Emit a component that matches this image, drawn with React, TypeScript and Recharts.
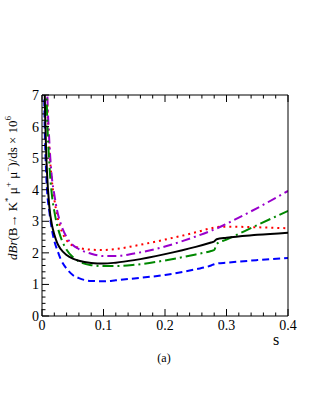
import React from "react";
import { LineChart, Line, XAxis, YAxis } from "recharts";

const S = [0.002, 0.004, 0.006, 0.008, 0.012, 0.016, 0.02, 0.025, 0.03, 0.04, 0.05, 0.06, 0.08, 0.1, 0.12, 0.15, 0.2, 0.25, 0.275, 0.28, 0.284, 0.3, 0.35, 0.4];
const BLACK = [14.5, 7.9, 5.7, 4.6, 3.45, 2.9, 2.58, 2.3, 2.13, 1.93, 1.82, 1.75, 1.68, 1.66, 1.69, 1.77, 1.96, 2.19, 2.33, 2.36, 2.43, 2.48, 2.57, 2.64];
const RED = [20, 12, 9, 7.2, 5.3, 4.3, 3.7, 3.15, 2.8, 2.4, 2.23, 2.16, 2.1, 2.09, 2.12, 2.22, 2.42, 2.65, 2.78, 2.8, 2.82, 2.83, 2.81, 2.78];
const PURPLE = [22, 13, 9.5, 7.5, 5.5, 4.4, 3.85, 3.3, 2.95, 2.5, 2.25, 2.12, 1.97, 1.9, 1.9, 1.98, 2.2, 2.52, 2.7, 2.74, 2.77, 2.92, 3.42, 3.96];
const GREEN = [20, 12, 8.5, 6.6, 4.8, 3.85, 3.32, 2.85, 2.52, 2.1, 1.87, 1.73, 1.61, 1.58, 1.58, 1.62, 1.76, 1.95, 2.06, 2.09, 2.28, 2.42, 2.88, 3.33];
const BLUE = [10, 6.4, 4.9, 4.05, 3.3, 2.75, 2.38, 2.08, 1.82, 1.5, 1.3, 1.2, 1.11, 1.1, 1.13, 1.19, 1.3, 1.48, 1.6, 1.64, 1.66, 1.69, 1.77, 1.84];

const X_TICKS = Array.from({ length: 21 }, (_, i) => +(i * 0.02).toFixed(2));
const Y_TICKS = Array.from({ length: 36 }, (_, i) => +(i * 0.2).toFixed(1));

const data = S.map((s, i) => ({
  s,
  black: BLACK[i],
  red: RED[i],
  purple: PURPLE[i],
  green: GREEN[i],
  blue: BLUE[i],
}));

const SERIF = { fontFamily: "'Liberation Serif', 'Times New Roman', serif" };

const isMajorX = (v: number) => Math.abs(v * 10 - Math.round(v * 10)) < 1e-6;
const isMajorY = (v: number) => Math.abs(v - Math.round(v)) < 1e-6;

const BottomTick = (p: any) => {
  const v = p.payload.value;
  const major = isMajorX(v);
  return (
    <g>
      <line x1={p.x} x2={p.x} y1={p.y} y2={p.y - (major ? 7 : 3.5)} stroke="#000" strokeWidth={1} />
      {major && (
        <text x={p.x} y={p.y + 14} textAnchor="middle" fontSize={14} style={SERIF} fill="#000">
          {v === 0 ? "0" : v.toFixed(1)}
        </text>
      )}
    </g>
  );
};

const TopTick = (p: any) => {
  const v = p.payload.value;
  const major = isMajorX(v);
  return <line x1={p.x} x2={p.x} y1={p.y} y2={p.y + (major ? 7 : 3.5)} stroke="#000" strokeWidth={1} />;
};

const LeftTick = (p: any) => {
  const v = p.payload.value;
  const major = isMajorY(v);
  return (
    <g>
      <line x1={p.x} x2={p.x + (major ? 7 : 3.5)} y1={p.y} y2={p.y} stroke="#000" strokeWidth={1} />
      {major && (
        <text x={p.x - 3} y={p.y + 5} textAnchor="end" fontSize={14} style={SERIF} fill="#000">
          {String(Math.round(v))}
        </text>
      )}
    </g>
  );
};

const RightTick = (p: any) => {
  const v = p.payload.value;
  const major = isMajorY(v);
  return <line x1={p.x} x2={p.x - (major ? 7 : 3.5)} y1={p.y} y2={p.y} stroke="#000" strokeWidth={1} />;
};

const YLabel = () => (
  <text transform="translate(17,188) rotate(-90)" textAnchor="middle" fontSize={13} style={SERIF} fill="#000">
    <tspan fontStyle="italic">dBr</tspan>
    <tspan>(B→ K</tspan>
    <tspan fontSize={9} dy={-6}>*</tspan>
    <tspan dy={6}> μ</tspan>
    <tspan fontSize={9} dy={-6}>+</tspan>
    <tspan dy={6}> μ</tspan>
    <tspan fontSize={9} dy={-6}>−</tspan>
    <tspan dy={6}>)/ds × 10</tspan>
    <tspan fontSize={9} dy={-6}>6</tspan>
  </text>
);

const XLabel = () => (
  <g>
    <text x={276} y={345} textAnchor="middle" fontSize={16} style={SERIF} fill="#000">s</text>
    <text x={164} y={362} textAnchor="middle" fontSize={12} style={SERIF} fill="#000">(a)</text>
  </g>
);

export default function App() {
  return (
    <div style={{ position: "absolute", left: 0, top: 0, width: 321, height: 415, background: "#fff" }}>
      <LineChart width={321} height={415} data={data} margin={{ top: 94, right: 32, bottom: 69, left: 0 }}>
        <XAxis
          dataKey="s"
          type="number"
          domain={[0, 0.4]}
          ticks={X_TICKS}
          interval={0}
          allowDataOverflow
          height={30}
          tickSize={0}
          tickMargin={0}
          tick={BottomTick}
          axisLine={{ stroke: "#000", strokeWidth: 1 }}
          tickLine={false}
          label={{ content: XLabel }}
        />
        <XAxis
          xAxisId="top"
          orientation="top"
          dataKey="s"
          type="number"
          domain={[0, 0.4]}
          ticks={X_TICKS}
          interval={0}
          height={1}
          tickSize={0}
          tickMargin={0}
          tick={TopTick}
          axisLine={{ stroke: "#000", strokeWidth: 1 }}
          tickLine={false}
        />
        <YAxis
          type="number"
          domain={[0, 7]}
          ticks={Y_TICKS}
          interval={0}
          allowDataOverflow
          width={42}
          tickSize={0}
          tickMargin={0}
          tick={LeftTick}
          axisLine={{ stroke: "#000", strokeWidth: 1 }}
          tickLine={false}
          label={{ content: YLabel }}
        />
        <YAxis
          yAxisId="right"
          orientation="right"
          type="number"
          domain={[0, 7]}
          ticks={Y_TICKS}
          interval={0}
          width={1}
          tickSize={0}
          tickMargin={0}
          tick={RightTick}
          axisLine={{ stroke: "#000", strokeWidth: 1 }}
          tickLine={false}
        />
        <Line type="monotone" dataKey="red" stroke="#ff0000" strokeWidth={2} strokeDasharray="2 4" dot={false} isAnimationActive={false} />
        <Line type="monotone" dataKey="purple" stroke="#9900cc" strokeWidth={2} strokeDasharray="9 4 2 4" dot={false} isAnimationActive={false} />
        <Line type="monotone" dataKey="green" stroke="#008800" strokeWidth={2} strokeDasharray="11 4 2 4" dot={false} isAnimationActive={false} />
        <Line type="monotone" dataKey="blue" stroke="#0000ff" strokeWidth={2} strokeDasharray="7 4" dot={false} isAnimationActive={false} />
        <Line type="monotone" dataKey="black" stroke="#000000" strokeWidth={2} dot={false} isAnimationActive={false} />
      </LineChart>
    </div>
  );
}
